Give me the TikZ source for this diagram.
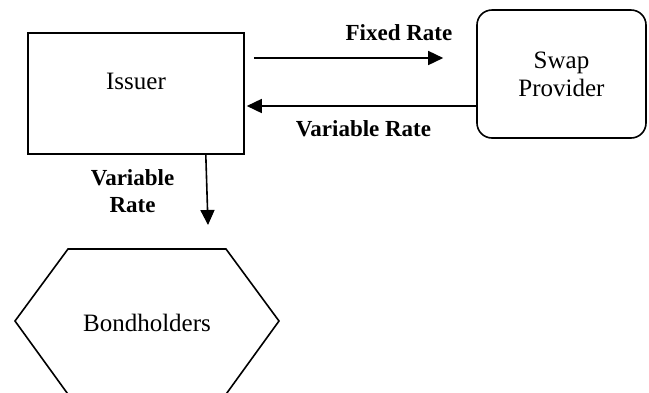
\documentclass[tikz,border=0pt]{standalone}
\usepackage{fontspec}
\setmainfont{Liberation Serif}
\usetikzlibrary{arrows.meta}
\begin{document}
\begin{tikzpicture}[x=1pt,y=-1pt,
  line width=1.6pt,
  box/.style={draw, line width=1.6pt, inner sep=0pt},
  txt/.style={font=\fontsize{25}{28}\selectfont, inner sep=0pt, align=center},
  lbl/.style={font=\fontsize{23}{27}\selectfont\bfseries, inner sep=0pt, align=center},
  arr/.style={-{Triangle[length=15pt,width=14pt]}, line width=1.6pt}]
\fill[white] (0,0) rectangle (649,392);
\useasboundingbox (0,0) rectangle (649,392);

% parties
\node[box, minimum width=216pt, minimum height=121pt] (issuer) at (136,93.5) {};
\node[txt] (issuerlabel) at (136,81) {Issuer};
\node[box, rounded corners=15pt, minimum width=169pt, minimum height=128pt, txt] (swap) at (561.5,74) {Swap\\Provider};

% bondholders hexagon (its lower edge runs just below the page)
\coordinate (h1) at (68,249);
\coordinate (h2) at (226,249);
\coordinate (h3) at (279,321);
\coordinate (h4) at (224,397);
\coordinate (h5) at (70,397);
\coordinate (h6) at (15,321);
\draw[line join=miter] (h1) -- (h2) -- (h3) -- (h4) -- (h5) -- (h6) -- cycle;
\node[txt] (bond) at (147,323) {Bondholders};

% payment flows
\draw[arr] ([shift={(9,-35.5)}]issuer.east) -- ([shift={(-33,-16)}]swap.west);
\draw[arr] ([shift={(0,32)}]swap.west) -- ([shift={(2,12.5)}]issuer.east);
\coordinate (dtip) at (208,225);
\draw[arr] ([xshift=-39pt]issuer.south east) -- (dtip);

% flow labels
\node[lbl] (fixedlbl) at (399,33) {Fixed Rate};
\node[lbl] (varlbl) at (363.5,129) {Variable Rate};
\node[lbl] (downlbl) at (132.5,191) {Variable\\Rate};
\end{tikzpicture}
\end{document}
